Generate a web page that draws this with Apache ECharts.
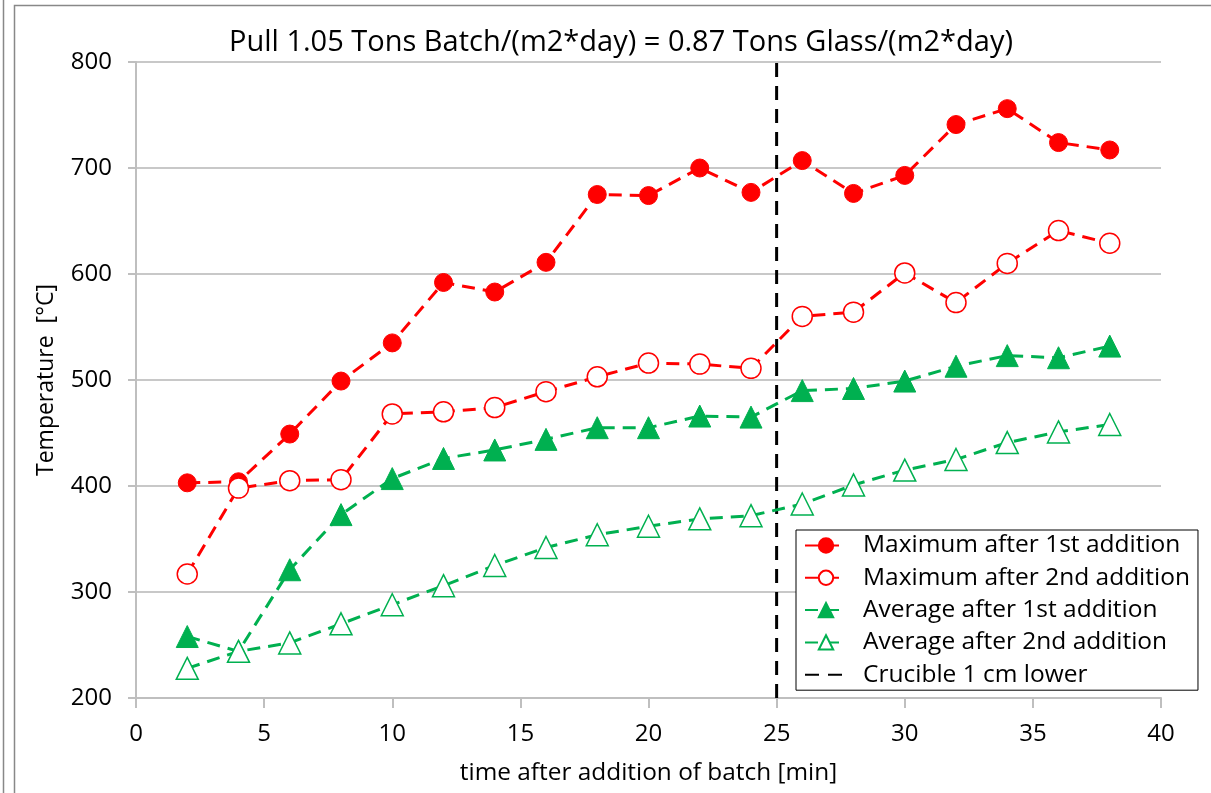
<!DOCTYPE html>
<html>
<head>
<meta charset="utf-8">
<script src="https://cdn.jsdelivr.net/npm/echarts@6/dist/echarts.min.js"></script>
<style>
  html, body { margin: 0; padding: 0; background: #fff; }
  #chart { width: 1211px; height: 793px; }
</style>
</head>
<body>
<div id="chart"></div>
<script>
// time after addition of batch [min]
var times = [2, 4, 6, 8, 10, 12, 14, 16, 18, 20, 22, 24, 26, 28, 30, 32, 34, 36, 38];
var max1st = [403, 404, 449, 499, 535, 592, 583, 611, 675, 674, 700, 677, 707, 676, 693, 741, 756, 724, 717];
var max2nd = [317, 398, 405, 406, 468, 470, 474, 489, 503, 516, 515, 511, 560, 564, 601, 573, 610, 641, 629];
var avg1st = [258, 244, 321, 373, 407, 426, 434, 444, 455, 455, 466, 465, 490, 492, 499, 513, 523, 521, 532];
var avg2nd = [228, 244, 252, 270, 288, 306, 325, 342, 354, 362, 369, 372, 383, 401, 415, 425, 441, 451, 458];
var crucibleX = 25;
var yTicks = [200, 300, 400, 500, 600, 700, 800];

function pairs(ys) {
    var d = [];
    for (var i in times) {
        d.push([times[i], ys[i]]);
    }
    return d;
}

var red = '#ff0000';
var green = '#00b050';
var font = 'Open Sans';

function dashed(name, color, ys, symbol, size, filled) {
    return {
        name: name,
        type: 'line',
        data: pairs(ys),
        symbol: symbol,
        symbolSize: size,
        showAllSymbol: true,
        lineStyle: { color: color, width: 3, type: [13, 8] },
        itemStyle: filled
            ? { color: color, borderColor: color, borderWidth: 1 }
            : { color: '#ffffff', borderColor: color, borderWidth: 1.5 },
        z: 3
    };
}

var chart = echarts.init(document.getElementById('chart'));
var option = {
    animation: false,
    textStyle: { fontFamily: font },
    title: {
        text: 'Pull 1.05 Tons Batch/(m2*day) = 0.87 Tons Glass/(m2*day)',
        left: 616,
        textAlign: 'center',
        top: 23,
        textStyle: { fontFamily: font, fontSize: 29, fontWeight: 'normal', color: '#000' }
    },
    graphic: [
        { type: 'rect', shape: { x: 14.5, y: 5.5, width: 1200, height: 790 },
          style: { fill: 'none', stroke: '#888', lineWidth: 1.5 }, silent: true },
        { type: 'line', shape: { x1: 3.5, y1: 0, x2: 3.5, y2: 793 },
          style: { stroke: '#888', lineWidth: 1.5 }, silent: true }
    ],
    grid: { left: 136, right: 50, top: 62, bottom: 95 },
    legend: {
        orient: 'vertical',
        left: 796,
        top: 530,
        itemWidth: 42,
        itemHeight: 18,
        itemGap: 7.3,
        padding: [3, 8, 3, 8],
        borderColor: '#000',
        borderWidth: 1,
        backgroundColor: '#fff',
        textStyle: { fontFamily: font, fontSize: 24.5, lineHeight: 24, color: '#000', padding: [0, 0, 0, 11] },
        data: ['Maximum after 1st addition', 'Maximum after 2nd addition',
               'Average after 1st addition', 'Average after 2nd addition',
               'Crucible 1 cm lower'],
        z: 10
    },
    xAxis: {
        type: 'value',
        min: 0,
        max: 40,
        interval: 5,
        name: 'time after addition of batch [min]',
        nameLocation: 'middle',
        nameGap: 63,
        nameTextStyle: { fontFamily: font, fontSize: 24.4, color: '#000' },
        axisLine: { lineStyle: { color: '#bfbfbf', width: 2 } },
        axisTick: { show: true, length: 10, lineStyle: { color: '#bfbfbf', width: 2 } },
        axisLabel: { fontFamily: font, fontSize: 24, color: '#000', margin: 24 },
        splitLine: { show: false }
    },
    yAxis: {
        type: 'value',
        min: yTicks[0],
        max: yTicks[yTicks.length - 1],
        interval: 100,
        name: 'Temperature  [°C]',
        nameLocation: 'middle',
        nameGap: 78,
        nameTextStyle: { fontFamily: font, fontSize: 23, color: '#000' },
        axisLine: { show: true, lineStyle: { color: '#bfbfbf', width: 2 } },
        axisTick: { show: true, length: 8, lineStyle: { color: '#bfbfbf', width: 2 } },
        axisLabel: { fontFamily: font, fontSize: 24, color: '#000', margin: 24 },
        splitLine: { show: true, lineStyle: { color: '#c8c8c8', width: 2 } }
    },
    series: [
        dashed('Maximum after 1st addition', red, max1st, 'circle', 18, true),
        dashed('Maximum after 2nd addition', red, max2nd, 'circle', 20, false),
        dashed('Average after 1st addition', green, avg1st, 'triangle', 22, true),
        dashed('Average after 2nd addition', green, avg2nd, 'triangle', 22, false),
        {
            name: 'Crucible 1 cm lower',
            type: 'line',
            data: [[crucibleX, yTicks[0]], [crucibleX, yTicks[yTicks.length - 1]]],
            symbol: 'none',
            lineStyle: { color: '#000', width: 3, type: [14, 9] },
            itemStyle: { color: 'rgba(0,0,0,0)', borderWidth: 0 },
            z: 2
        }
    ]
};
chart.setOption(option);
</script>
</body>
</html>
